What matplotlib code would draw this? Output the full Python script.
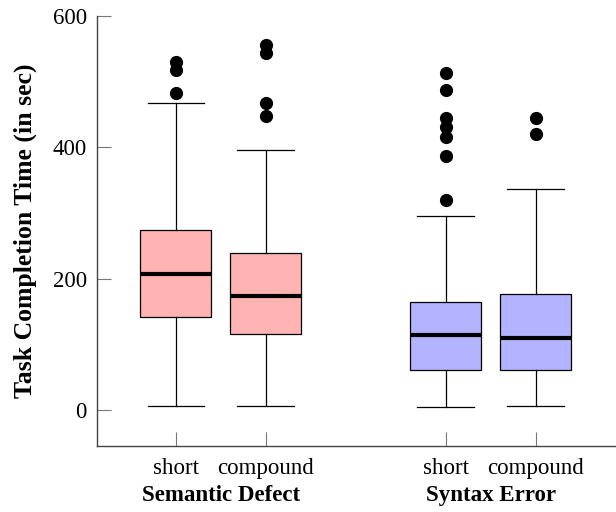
import numpy as np
import matplotlib.pyplot as plt

plt.rcParams['font.family'] = ['Liberation Serif', 'DejaVu Serif']

# box values
groups = ['Semantic Defect', 'Syntax Error']
labels = ['short', 'compound', 'short', 'compound']
positions = [1, 2, 4, 5]
whislo = [6, 6, 4, 6]
q1 = [141, 116, 61, 60]
med = [207, 174, 114, 109]
q3 = [274, 239, 164, 176]
whishi = [468, 395, 295, 337]
fliers = [
    [529, 518, 482],
    [555, 543, 467, 447],
    [513, 487, 444, 431, 416, 387, 319],
    [444, 420],
]
colors = ['#ffb3b3', '#ffb3b3', '#b3b3ff', '#b3b3ff']

stats = []
for i in range(len(labels)):
    stats.append(dict(whislo=whislo[i], q1=q1[i], med=med[i], q3=q3[i],
                      whishi=whishi[i], fliers=fliers[i], label=labels[i]))

fig = plt.figure(figsize=(6.16, 5.12), dpi=100)
ax = fig.add_axes([0.157, 0.129, 0.841, 0.84])

bp = ax.bxp(stats, positions=positions, widths=0.79, patch_artist=True,
            boxprops=dict(edgecolor='black', linewidth=0.9),
            medianprops=dict(color='black', linewidth=3),
            whiskerprops=dict(color='black', linewidth=0.9),
            capprops=dict(color='black', linewidth=0.9),
            capwidths=0.63,
            flierprops=dict(marker='o', markerfacecolor='black',
                            markeredgecolor='black', markersize=8.5))
for patch, c in zip(bp['boxes'], colors):
    patch.set_facecolor(c)

ax.set_xlim(0.12, 5.88)
ax.set_ylim(-55, 600)
ax.set_yticks([0, 200, 400, 600])
ax.set_xticks(positions)
ax.set_xticklabels(labels)

for s in ['top', 'right']:
    ax.spines[s].set_visible(False)
for s in ['left', 'bottom']:
    ax.spines[s].set_color('#444444')
    ax.spines[s].set_linewidth(1.0)
ax.tick_params(direction='in', length=10, width=0.8, color='#777777',
               labelsize=16.5, pad=7)
ax.tick_params(axis='x', pad=9)

ax.set_ylabel('Task Completion Time (in sec)', fontsize=18.5, fontweight='bold',
              labelpad=11)

for g, x in zip(groups, [1.5, 4.5]):
    ax.text(x, -0.115, g, transform=ax.get_xaxis_transform(), ha='center',
            va='center', fontsize=16.5, fontweight='bold')

fig.savefig('out.png', dpi=100)
